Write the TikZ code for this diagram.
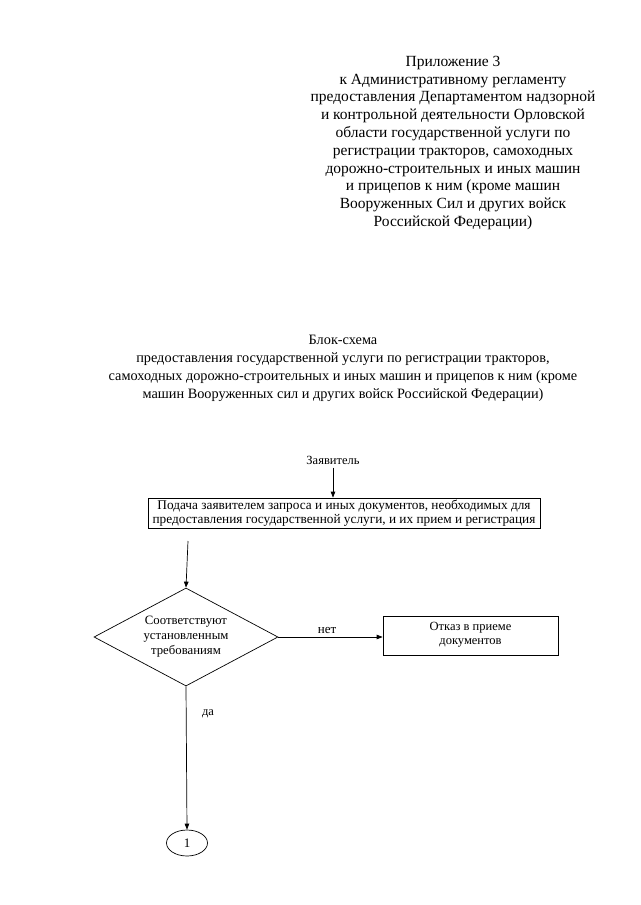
\documentclass[tikz,border=0pt]{standalone}
\usepackage{fontspec}
\setmainfont{Liberation Serif}
\usetikzlibrary{arrows.meta,shapes.geometric}
\begin{document}
\begin{tikzpicture}[x=1pt,y=-1pt,
  line width=0.7pt,
  arr/.style={-{Triangle[length=6pt,width=4.5pt]}},
  hdr/.style={align=center,inner sep=0pt,font=\fontsize{15.5}{17.8}\selectfont},
  ttl/.style={align=center,inner sep=0pt,font=\fontsize{14.3}{18}\selectfont},
  boxn/.style={draw,align=center,inner sep=0pt,font=\fontsize{13.3}{14}\selectfont},
  lbl/.style={inner sep=0pt,font=\fontsize{12.5}{14}\selectfont}]
\fill[white] (0,0) rectangle (640,905);
\useasboundingbox (0,0) rectangle (640,905);
\node[hdr] (hdr) at (453,143) {Приложение 3\\к Административному регламенту\\предоставления Департаментом надзорной\\и контрольной деятельности Орловской\\области государственной услуги по\\регистрации тракторов, самоходных\\дорожно-строительных и иных машин\\и прицепов к ним (кроме машин\\Вооруженных Сил и других войск\\Российской Федерации)};
\node[ttl] (ttl) at (343,368) {Блок-схема\\предоставления государственной услуги по регистрации тракторов,\\самоходных дорожно-строительных и иных машин и прицепов к ним (кроме\\машин Вооруженных сил и других войск Российской Федерации)};
\node[lbl] (zay) at (333,460) {Заявитель};
\node[boxn,minimum width=392pt,minimum height=30pt] (box1) at (344,513) {Подача заявителем запроса и иных документов, необходимых для\\предоставления государственной услуги, и их прием и регистрация};
\draw[arr] (zay.south) ++(0,3) -- (zay.south |- box1.north);
\node[draw,shape=diamond,aspect=1.88,minimum width=184pt,minimum height=98pt,inner sep=0pt,align=center,font=\fontsize{12.75}{15}\selectfont] (dia) at (186,637) {Соответствуют\\установленным\\требованиям};
\coordinate (c1) at (188,541);
\draw[arr] (c1) -- (dia.north);
\node[boxn,minimum width=175pt,minimum height=39pt,text depth=4pt,font=\fontsize{12.5}{14}\selectfont] (box2) at (470.5,635.5) {Отказ в приеме\\документов};
\draw[arr] (dia.east) -- (dia.east -| box2.west);
\node[lbl,font=\fontsize{13}{14}\selectfont] (net) at (327,630) {нет};
\node[draw,ellipse,minimum width=41pt,minimum height=26pt,inner sep=0pt,font=\fontsize{13}{14}\selectfont] (one) at (187,843) {1};
\draw[arr] (dia.south) -- (one.north);
\node[lbl] (da) at (208,714) {да};
\end{tikzpicture}
\end{document}
